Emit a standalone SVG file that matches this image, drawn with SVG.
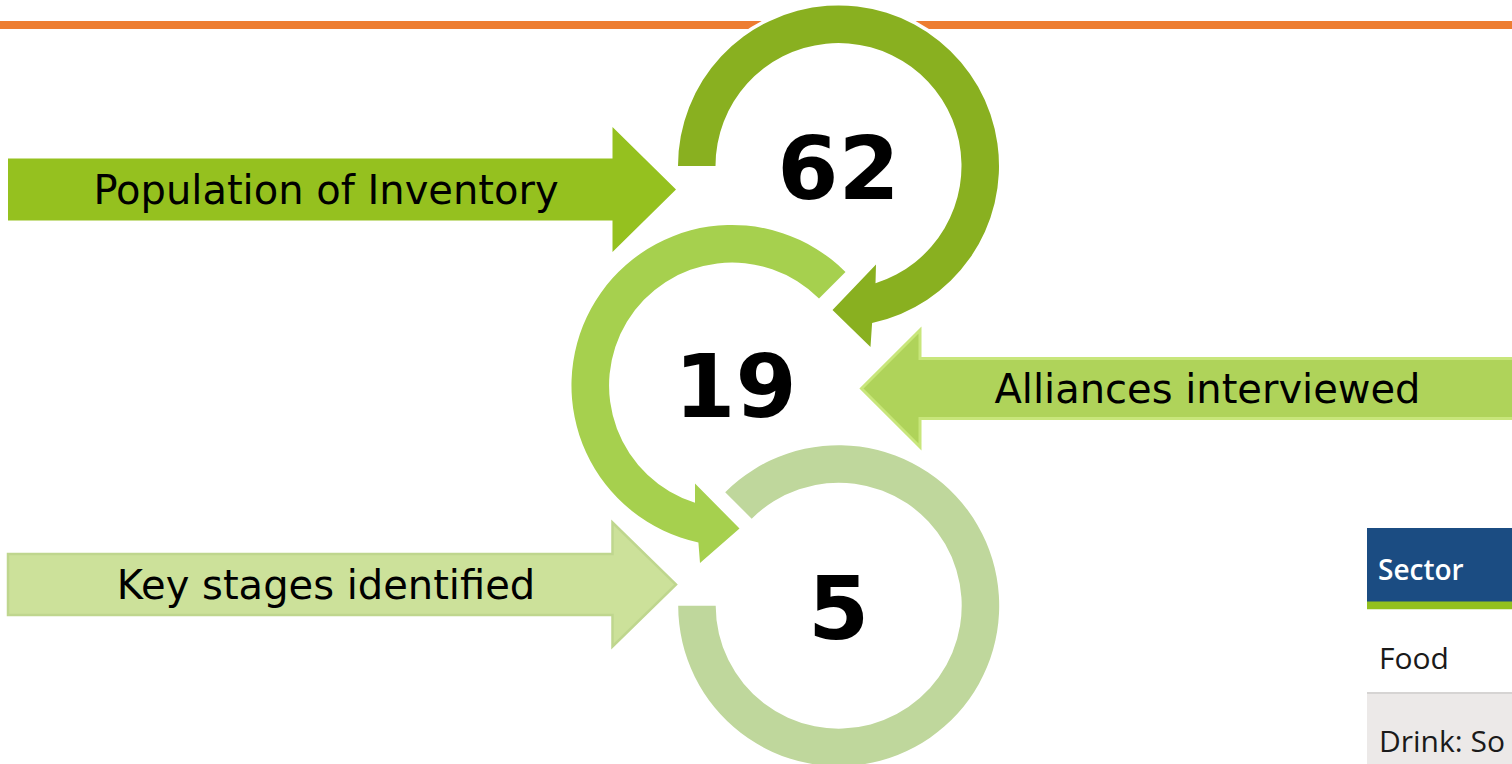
<svg xmlns="http://www.w3.org/2000/svg" width="1512" height="764" viewBox="0 0 1512 764">
  <style>
    .lbl { font-family: "DejaVu Sans", Verdana, sans-serif; font-size: 40px; fill: #000; text-anchor: middle; }
    .num { font-family: "DejaVu Sans", Verdana, sans-serif; font-size: 88px; font-weight: bold; fill: #000; text-anchor: middle; }
    .ring { stroke: #ffffff; stroke-width: 7; paint-order: stroke; stroke-linejoin: miter; }
    .tbl { font-family: "Open Sans", "Liberation Sans", sans-serif; font-size: 30px; fill: #1a1a1a; }
    .tblh { font-family: "Open Sans", "Liberation Sans", sans-serif; font-size: 28px; font-weight: 600; fill: #ffffff; }
  </style>
  <rect x="0" y="0" width="1512" height="764" fill="#ffffff"/>
  <rect id="top-rule" x="0" y="21" width="1512" height="8" fill="#ED7D31"/>

  <g id="connectors">
    <g id="arrow-population">
      <path d="M 8 158.5 H 612.5 V 127 L 676 189.5 L 612.5 252 V 220.5 H 8 Z" fill="#95C11F"/>
      <text class="lbl" x="326" y="204">Population of Inventory</text>
    </g>
    <g id="arrow-alliances">
      <path d="M 1516 358.5 H 920 V 330 L 861.5 388.5 L 920 447 V 418.5 H 1516 Z" fill="#AFD35A" stroke="#C8E67B" stroke-width="3" stroke-linejoin="miter"/>
      <text class="lbl" x="1207.5" y="403">Alliances interviewed</text>
    </g>
    <g id="arrow-keystages">
      <path d="M 8 554 H 612.5 V 522.5 L 676 584.5 L 612.5 646.5 V 615 H 8 Z" fill="#CCE19A" stroke="#BFD68E" stroke-width="2.5" stroke-linejoin="miter"/>
      <text class="lbl" x="326" y="599">Key stages identified</text>
    </g>
  </g>

  <g id="node-5">
    <path class="ring" fill="#BFD79C" d="M 715.7 605.7 L 678.2 605.7 A 160.5 160.5 0 1 0 725.2 492.2 L 751.7 518.7 A 123 123 0 1 1 715.7 605.7 Z"/>
    <text class="num" x="838.5" y="639">5</text>
  </g>

  <g id="node-19">
    <path class="ring" fill="#A6D04E" d="M 819 298.5 L 845.5 272 A 160.5 160.5 0 1 0 698.4 542.4 L 700 563 L 739.5 528.5 L 695 483.5 L 695 502.8 A 123 123 0 1 1 819 298.5 Z"/>
    <text class="num" x="735.5" y="417">19</text>
  </g>

  <g id="node-62">
    <path class="ring" fill="#89B020" d="M 715.5 166 L 678 166 A 160.5 160.5 0 1 1 872.1 322.9 L 870.5 347 L 832.5 310 L 876 264.5 L 875.5 283.3 A 123 123 0 1 0 715.5 166 Z"/>
    <text class="num" x="838.5" y="199">62</text>
  </g>

  <g id="table">
    <rect x="1367" y="528" width="150" height="74" fill="#1B4C82"/>
    <rect x="1367" y="601.5" width="150" height="8" fill="#93C01F"/>
    <rect x="1367" y="609.5" width="150" height="83" fill="#ffffff"/>
    <rect x="1367" y="692" width="150" height="2" fill="#D6D4D3"/>
    <rect x="1367" y="694" width="150" height="72" fill="#ECE9E8"/>
    <text class="tblh" x="1378" y="580">Sector</text>
    <text class="tbl" x="1379" y="669">Food</text>
    <text class="tbl" x="1379" y="752">Drink: So</text>
  </g>
</svg>
